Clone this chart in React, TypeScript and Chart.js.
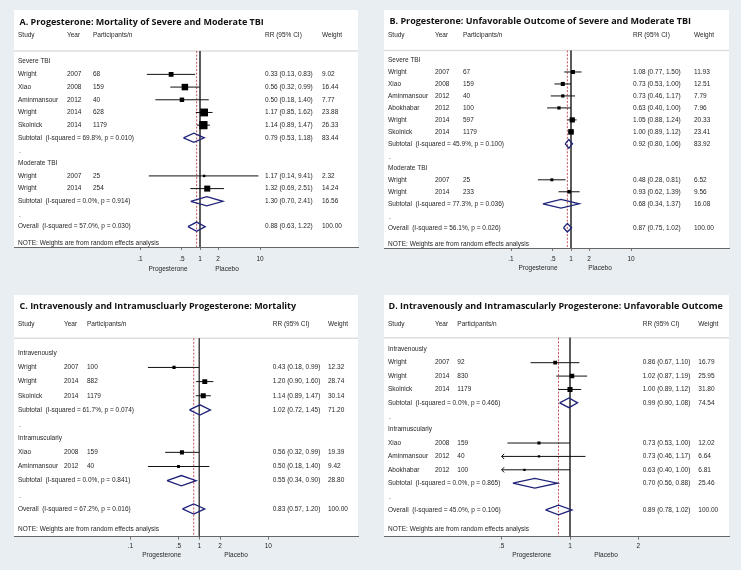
import React, { useEffect, useRef } from "react";
import { Chart, registerables } from "chart.js";
Chart.register(...registerables);

// ---------------- Panel A ----------------
const A_title = "A. Progesterone: Mortality of Severe and Moderate TBI";
const A_groups = ["Severe TBI", "Moderate TBI"];
const A_study = ["Wright", "Xiao", "Aminmansour", "Wright", "Skolnick", "Wright", "Wright"];
const A_group = [0, 0, 0, 0, 0, 1, 1];
const A_year = [2007, 2008, 2012, 2014, 2014, 2007, 2014];
const A_n = [68, 159, 40, 628, 1179, 25, 254];
const A_rr = [0.33, 0.56, 0.5, 1.17, 1.14, 1.17, 1.32];
const A_lo = [0.13, 0.32, 0.18, 0.85, 0.89, 0.14, 0.69];
const A_hi = [0.83, 0.99, 1.4, 1.62, 1.47, 9.41, 2.51];
const A_wt = [9.02, 16.44, 7.77, 23.88, 26.33, 2.32, 14.24];
const A_subRR = [0.79, 1.3];
const A_subLo = [0.53, 0.7];
const A_subHi = [1.18, 2.41];
const A_subWt = [83.44, 16.56];
const A_subI2 = [69.8, 0.0];
const A_subP = [0.01, 0.914];
const A_all = [0.88, 0.63, 1.22];
const A_allI2 = 57.0;
const A_allP = 0.03;
const A_ticks = [0.1, 0.5, 1, 2, 10];

// ---------------- Panel B ----------------
const B_title = "B. Progesterone: Unfavorable Outcome of Severe and Moderate TBI";
const B_groups = ["Severe TBI", "Moderate TBI"];
const B_study = ["Wright", "Xiao", "Aminmansour", "Abokhabar", "Wright", "Skolnick", "Wright", "Wright"];
const B_group = [0, 0, 0, 0, 0, 0, 1, 1];
const B_year = [2007, 2008, 2012, 2012, 2014, 2014, 2007, 2014];
const B_n = [67, 159, 40, 100, 597, 1179, 25, 233];
const B_rr = [1.08, 0.73, 0.73, 0.63, 1.05, 1.0, 0.48, 0.93];
const B_lo = [0.77, 0.53, 0.46, 0.4, 0.88, 0.89, 0.28, 0.62];
const B_hi = [1.5, 1.0, 1.17, 1.0, 1.24, 1.12, 0.81, 1.39];
const B_wt = [11.93, 12.51, 7.79, 7.96, 20.33, 23.41, 6.52, 9.56];
const B_subRR = [0.92, 0.68];
const B_subLo = [0.8, 0.34];
const B_subHi = [1.06, 1.37];
const B_subWt = [83.92, 16.08];
const B_subI2 = [45.9, 77.3];
const B_subP = [0.1, 0.036];
const B_all = [0.87, 0.75, 1.02];
const B_allI2 = 56.1;
const B_allP = 0.026;
const B_ticks = [0.1, 0.5, 1, 2, 10];

// ---------------- Panel C ----------------
const C_title = "C. Intravenously and Intramuscluarly Progesterone: Mortality";
const C_groups = ["Intravenously", "Intramuscularly"];
const C_study = ["Wright", "Wright", "Skolnick", "Xiao", "Aminmansour"];
const C_group = [0, 0, 0, 1, 1];
const C_year = [2007, 2014, 2014, 2008, 2012];
const C_n = [100, 882, 1179, 159, 40];
const C_rr = [0.43, 1.2, 1.14, 0.56, 0.5];
const C_lo = [0.18, 0.9, 0.89, 0.32, 0.18];
const C_hi = [0.99, 1.6, 1.47, 0.99, 1.4];
const C_wt = [12.32, 28.74, 30.14, 19.39, 9.42];
const C_subRR = [1.02, 0.55];
const C_subLo = [0.72, 0.34];
const C_subHi = [1.45, 0.9];
const C_subWt = [71.2, 28.8];
const C_subI2 = [61.7, 0.0];
const C_subP = [0.074, 0.841];
const C_all = [0.83, 0.57, 1.2];
const C_allI2 = 67.2;
const C_allP = 0.016;
const C_ticks = [0.1, 0.5, 1, 2, 10];

// ---------------- Panel D ----------------
const D_title = "D. Intravenously and Intramascularly Progesterone: Unfavorable Outcome";
const D_groups = ["Intravenously", "Intramuscularly"];
const D_study = ["Wright", "Wright", "Skolnick", "Xiao", "Aminmansour", "Abokhabar"];
const D_group = [0, 0, 0, 1, 1, 1];
const D_year = [2007, 2014, 2014, 2008, 2012, 2012];
const D_n = [92, 830, 1179, 159, 40, 100];
const D_rr = [0.86, 1.02, 1.0, 0.73, 0.73, 0.63];
const D_lo = [0.67, 0.87, 0.89, 0.53, 0.46, 0.4];
const D_hi = [1.1, 1.19, 1.12, 1.0, 1.17, 1.0];
const D_wt = [16.79, 25.95, 31.8, 12.02, 6.64, 6.81];
const D_subRR = [0.99, 0.7];
const D_subLo = [0.9, 0.56];
const D_subHi = [1.08, 0.88];
const D_subWt = [74.54, 25.46];
const D_subI2 = [0.0, 0.0];
const D_subP = [0.466, 0.865];
const D_all = [0.89, 0.78, 1.02];
const D_allI2 = 45.0;
const D_allP = 0.106;
const D_ticks = [0.5, 1, 2];

const HEADERS = ["Study", "Year", "Participants/n", "RR (95% CI)", "Weight"];
const NOTE = "NOTE: Weights are from random effects analysis";
const LEFT_LABEL = "Progesterone";
const RIGHT_LABEL = "Placebo";

// ---------------- styles ----------------
const BG = "#e8eef1";
const BODY_FS = 6.5;
const BODY_FONT = `${BODY_FS}px "Liberation Sans", Arial, sans-serif`;
const TITLE_FONT = `bold 9px "Open Sans", "Liberation Sans", sans-serif`;
const TXT = "#262626";
const DIAMOND = "#1f237a";
const REDDASH = "#c2555a";

type PD = {
  title: string; groups: string[]; study: string[]; group: number[]; year: number[]; n: number[];
  rr: number[]; lo: number[]; hi: number[]; wt: number[];
  subRR: number[]; subLo: number[]; subHi: number[]; subWt: number[]; subI2: number[]; subP: number[];
  all: number[]; allI2: number; allP: number; ticks: number[];
};

const PA: PD = { title: A_title, groups: A_groups, study: A_study, group: A_group, year: A_year, n: A_n, rr: A_rr, lo: A_lo, hi: A_hi, wt: A_wt, subRR: A_subRR, subLo: A_subLo, subHi: A_subHi, subWt: A_subWt, subI2: A_subI2, subP: A_subP, all: A_all, allI2: A_allI2, allP: A_allP, ticks: A_ticks };
const PB: PD = { title: B_title, groups: B_groups, study: B_study, group: B_group, year: B_year, n: B_n, rr: B_rr, lo: B_lo, hi: B_hi, wt: B_wt, subRR: B_subRR, subLo: B_subLo, subHi: B_subHi, subWt: B_subWt, subI2: B_subI2, subP: B_subP, all: B_all, allI2: B_allI2, allP: B_allP, ticks: B_ticks };
const PC: PD = { title: C_title, groups: C_groups, study: C_study, group: C_group, year: C_year, n: C_n, rr: C_rr, lo: C_lo, hi: C_hi, wt: C_wt, subRR: C_subRR, subLo: C_subLo, subHi: C_subHi, subWt: C_subWt, subI2: C_subI2, subP: C_subP, all: C_all, allI2: C_allI2, allP: C_allP, ticks: C_ticks };
const PDD: PD = { title: D_title, groups: D_groups, study: D_study, group: D_group, year: D_year, n: D_n, rr: D_rr, lo: D_lo, hi: D_hi, wt: D_wt, subRR: D_subRR, subLo: D_subLo, subHi: D_subHi, subWt: D_subWt, subI2: D_subI2, subP: D_subP, all: D_all, allI2: D_allI2, allP: D_allP, ticks: D_ticks };

type LY = {
  W: number; H: number; left: number; right: number; top: number; bottom: number;
  x1: number; ppd: number; row0: number; rowH: number;
  titleX: number; titleY: number; headerY: number; sepY: number; noteY: number;
  cols: number[]; prog: number; plac: number; labY: number; tickY: number; boxK: number;
  clip: number[] | null;
};

const LA: LY = { W: 370, H: 285, left: 14, right: 358, top: 10, bottom: 247, x1: 200, ppd: 60, row0: 61.7, rowH: 12.69, titleX: 19.5, titleY: 22.5, headerY: 35, sepY: 51, noteY: 243, cols: [18, 67, 93, 265, 322], prog: -32, plac: 27, labY: 269, tickY: 259.5, boxK: 1.6, clip: null };
const LB: LY = { W: 371, H: 285, left: 14, right: 359, top: 10, bottom: 248, x1: 201, ppd: 60, row0: 60, rowH: 11.98, titleX: 19.5, titleY: 21.5, headerY: 35, sepY: 50.5, noteY: 244.5, cols: [18, 65, 93, 263, 324], prog: -33, plac: 29, labY: 268.5, tickY: 259, boxK: 1.15, clip: null };
const LC: LY = { W: 370, H: 285, left: 14, right: 358, top: 10, bottom: 251.7, x1: 199.3, ppd: 69, row0: 68.3, rowH: 14.15, titleX: 19.5, titleY: 21, headerY: 39.3, sepY: 53.3, noteY: 244.3, cols: [18, 64, 87, 272.7, 328], prog: -37.6, plac: 36.7, labY: 270, tickY: 261.5, boxK: 0.92, clip: null };
const LD: LY = { W: 371, H: 285, left: 14, right: 359, top: 10, bottom: 251.7, x1: 200, ppd: 227, row0: 64.3, rowH: 13.39, titleX: 18.5, titleY: 21, headerY: 39, sepY: 52.7, noteY: 244.3, cols: [18, 65, 87.3, 272.7, 328.3], prog: -38.3, plac: 36, labY: 270, tickY: 261.5, boxK: 0.9, clip: [0.5, 2] };

type Row = { kind: "group" | "study" | "sub" | "dot" | "overall"; i: number };

function buildRows(d: PD): Row[] {
  const rows: Row[] = [];
  d.groups.forEach((_, g) => {
    rows.push({ kind: "group", i: g });
    d.study.forEach((_, i) => { if (d.group[i] === g) rows.push({ kind: "study", i }); });
    rows.push({ kind: "sub", i: g });
    rows.push({ kind: "dot", i: g });
  });
  rows.push({ kind: "overall", i: 0 });
  return rows;
}

const f2 = (v: number) => v.toFixed(2);
const rrText = (r: number, l: number, h: number) => `${f2(r)} (${f2(l)}, ${f2(h)})`;
const tickLabel = (v: number) => (v < 1 ? String(v).replace(/^0/, "") : String(v));

function makeChart(canvas: HTMLCanvasElement, d: PD, L: LY) {
  const rows = buildRows(d);
  const yMin = -(L.row0 - L.top) / L.rowH;
  const yMax = (L.bottom - L.row0) / L.rowH;
  const sepRow = (L.sepY - L.row0) / L.rowH;
  const xMin = Math.pow(10, (L.left - L.x1) / L.ppd);
  const xMax = Math.pow(10, (L.right - L.x1) / L.ppd);
  const cLo = L.clip ? L.clip[0] : 0;
  const cHi = L.clip ? L.clip[1] : Infinity;
  const H = 0.36;

  const datasets: any[] = [];
  const studyRows = rows.map((r, k) => ({ r, k })).filter((o) => o.r.kind === "study");
  // boxes (top-most)
  datasets.push({
    data: studyRows.map((o) => ({ x: d.rr[o.r.i], y: o.k })),
    pointStyle: "rect",
    pointRadius: studyRows.map((o) => (L.boxK * Math.sqrt(d.wt[o.r.i])) / Math.SQRT2),
    pointBackgroundColor: "#000",
    pointBorderWidth: 0,
    showLine: false,
  });
  // CI lines
  studyRows.forEach((o) => {
    datasets.push({
      data: [
        { x: Math.max(d.lo[o.r.i], cLo), y: o.k },
        { x: Math.min(d.hi[o.r.i], cHi), y: o.k },
      ],
      showLine: true, borderColor: "#111", borderWidth: 1, pointRadius: 0,
    });
  });
  // diamonds
  rows.forEach((r, k) => {
    if (r.kind !== "sub" && r.kind !== "overall") return;
    const e = r.kind === "sub" ? d.subRR[r.i] : d.all[0];
    const l = r.kind === "sub" ? d.subLo[r.i] : d.all[1];
    const h = r.kind === "sub" ? d.subHi[r.i] : d.all[2];
    datasets.push({
      data: [
        { x: l, y: k }, { x: e, y: k - H }, { x: h, y: k }, { x: e, y: k + H }, { x: l, y: k },
      ],
      showLine: true, borderColor: DIAMOND, borderWidth: 1.3, pointRadius: 0,
      borderJoinStyle: "miter", fill: false,
    });
  });
  // dashed overall line
  datasets.push({
    data: [{ x: d.all[0], y: sepRow }, { x: d.all[0], y: yMax }],
    showLine: true, borderColor: REDDASH, borderWidth: 1, borderDash: [2, 1.6], pointRadius: 0,
  });
  // null line at 1
  datasets.push({
    data: [{ x: 1, y: sepRow }, { x: 1, y: yMax }],
    showLine: true, borderColor: "#444", borderWidth: 1, pointRadius: 0,
  });

  const bgPlugin = {
    id: "bgp",
    beforeDraw(chart: any) {
      const ctx = chart.ctx;
      const a = chart.chartArea;
      ctx.save();
      ctx.fillStyle = BG;
      ctx.fillRect(0, 0, chart.width, chart.height);
      ctx.fillStyle = "#ffffff";
      ctx.fillRect(a.left, a.top, a.right - a.left, a.bottom - a.top);
      const ys = chart.scales.y.getPixelForValue(sepRow);
      ctx.strokeStyle = "#dedede";
      ctx.lineWidth = 1.6;
      ctx.beginPath();
      ctx.moveTo(a.left, ys);
      ctx.lineTo(a.right, ys);
      ctx.stroke();
      ctx.restore();
    },
  };

  const textPlugin = {
    id: "txtp",
    afterDraw(chart: any) {
      const ctx = chart.ctx;
      const ys = chart.scales.y;
      const xs = chart.scales.x;
      const [c0, c1, c2, c3, c4] = L.cols;
      ctx.save();
      ctx.textBaseline = "middle";
      ctx.textAlign = "left";
      ctx.fillStyle = "#111";
      ctx.font = TITLE_FONT;
      ctx.fillText(d.title, L.titleX, L.titleY);
      ctx.font = BODY_FONT;
      ctx.fillStyle = TXT;
      const put = (s: string, x: number, y: number) => ctx.fillText(s, x, y);
      [c0, c1, c2, c3, c4].forEach((cx, j) => put(HEADERS[j], cx, L.headerY));
      rows.forEach((r, k) => {
        const y = ys.getPixelForValue(k);
        if (r.kind === "group") put(d.groups[r.i], c0, y);
        else if (r.kind === "study") {
          const i = r.i;
          put(d.study[i], c0, y);
          put(String(d.year[i]), c1, y);
          put(String(d.n[i]), c2, y);
          put(rrText(d.rr[i], d.lo[i], d.hi[i]), c3, y);
          put(f2(d.wt[i]), c4, y);
        } else if (r.kind === "sub") {
          const g = r.i;
          put(`Subtotal  (I-squared = ${d.subI2[g].toFixed(1)}%, p = ${d.subP[g].toFixed(3)})`, c0, y);
          put(rrText(d.subRR[g], d.subLo[g], d.subHi[g]), c3, y);
          put(f2(d.subWt[g]), c4, y);
        } else if (r.kind === "dot") {
          put(".", c0 + 1, y + 1);
        } else {
          put(`Overall  (I-squared = ${d.allI2.toFixed(1)}%, p = ${d.allP.toFixed(3)})`, c0, y);
          put(rrText(d.all[0], d.all[1], d.all[2]), c3, y);
          put("100.00", c4, y);
        }
      });
      put(NOTE, c0, L.noteY);
      const x1 = xs.getPixelForValue(1);
      ctx.textAlign = "center";
      put(LEFT_LABEL, x1 + L.prog, L.labY);
      put(RIGHT_LABEL, x1 + L.plac, L.labY);
      // arrows for clipped CIs
      if (L.clip) {
        ctx.strokeStyle = "#111";
        ctx.lineWidth = 1;
        rows.forEach((r, k) => {
          if (r.kind !== "study") return;
          const y = ys.getPixelForValue(k);
          if (d.lo[r.i] < cLo) {
            const x = xs.getPixelForValue(cLo);
            ctx.beginPath();
            ctx.moveTo(x + 2.5, y - 2.6);
            ctx.lineTo(x, y);
            ctx.lineTo(x + 2.5, y + 2.6);
            ctx.stroke();
          }
          if (d.hi[r.i] > cHi) {
            const x = xs.getPixelForValue(cHi);
            ctx.beginPath();
            ctx.moveTo(x - 2.5, y - 2.6);
            ctx.lineTo(x, y);
            ctx.lineTo(x - 2.5, y + 2.6);
            ctx.stroke();
          }
        });
      }
      ctx.restore();
    },
  };

  const tickPad = L.tickY - L.bottom - 3 - (BODY_FS * 1.2) / 2;

  return new Chart(canvas, {
    type: "scatter",
    data: { datasets },
    plugins: [bgPlugin, textPlugin],
    options: {
      responsive: false,
      animation: false,
      devicePixelRatio: 1,
      events: [],
      layout: { padding: { left: L.left, right: L.W - L.right, top: L.top, bottom: 0 } },
      plugins: { legend: { display: false }, tooltip: { enabled: false } },
      scales: {
        x: {
          type: "logarithmic",
          bounds: "data",
          min: xMin,
          max: xMax,
          afterBuildTicks: (s: any) => { s.ticks = d.ticks.map((v) => ({ value: v })); },
          afterFit: (s: any) => { s.height = L.H - L.bottom; },
          ticks: {
            autoSkip: false, maxRotation: 0, minRotation: 0, padding: tickPad,
            color: TXT, font: { family: '"Liberation Sans", Arial, sans-serif', size: BODY_FS },
            callback: (v: any) => tickLabel(Number(v)),
          },
          grid: { display: true, drawOnChartArea: false, drawTicks: true, tickLength: 3, color: "#777", lineWidth: 1 },
          border: { display: true, color: "#666", width: 1 },
        },
        y: {
          type: "linear", reverse: true, display: false, bounds: "data", min: yMin, max: yMax,
        },
      },
    } as any,
  });
}

function Panel({ d, L, x, y }: { d: PD; L: LY; x: number; y: number }) {
  const ref = useRef<HTMLCanvasElement>(null);
  useEffect(() => {
    const c = makeChart(ref.current as HTMLCanvasElement, d, L);
    return () => c.destroy();
  }, []);
  return (
    <canvas
      ref={ref}
      width={L.W}
      height={L.H}
      style={{ position: "absolute", left: x, top: y, width: L.W, height: L.H }}
    />
  );
}

export default function App() {
  return (
    <div style={{ position: "absolute", left: 0, top: 0, width: 741, height: 570, background: BG, overflow: "hidden" }}>
      <Panel d={PA} L={LA} x={0} y={0} />
      <Panel d={PB} L={LB} x={370} y={0} />
      <Panel d={PC} L={LC} x={0} y={285} />
      <Panel d={PDD} L={LD} x={370} y={285} />
    </div>
  );
}
